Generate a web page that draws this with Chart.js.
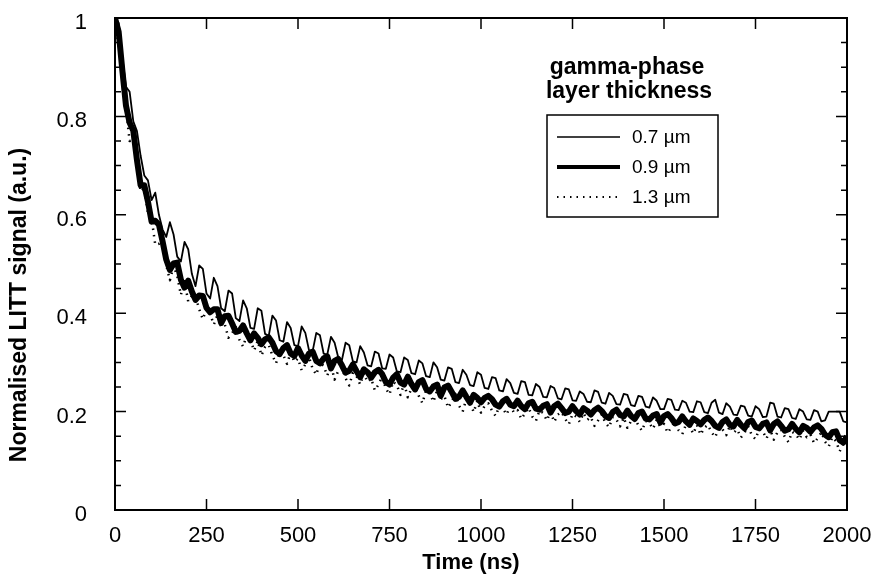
<!DOCTYPE html>
<html>
<head>
<meta charset="utf-8">
<title>LITT signal decay</title>
<script src="https://cdn.jsdelivr.net/npm/chart.js@4"></script>
<style>
  html, body { margin: 0; padding: 0; background: #fff; }
  canvas { display: block; }
</style>
</head>
<body>
<canvas id="littChart" width="871" height="575"></canvas>
<script>
// traces every 10 ns
const sampleStep = 10;

const seriesLabels = ['0.7 µm', '0.9 µm', '1.3 µm'];
const legendTitle = ['gamma-phase', 'layer thickness'];
const xTitle = 'Time (ns)';
const yTitle = 'Normalised LITT signal (a.u.)';
const xTickValues = [0, 250, 500, 750, 1000, 1250, 1500, 1750, 2000];
const yTickValues = [0, 0.2, 0.4, 0.6, 0.8, 1];
const yMinorStep = 0.05;

// 0.7 um (thin line)
const signal07 = [
  1.00, 0.99, 0.92, 0.86, 0.85, 0.79, 0.77, 0.72, 0.68, 0.67,
  0.63, 0.645, 0.60, 0.57, 0.555, 0.585, 0.56, 0.515, 0.505, 0.545,
  0.53, 0.48, 0.455, 0.497, 0.49, 0.44, 0.43, 0.472, 0.455, 0.41,
  0.404, 0.446, 0.44, 0.39, 0.384, 0.426, 0.41, 0.37, 0.368, 0.41,
  0.405, 0.358, 0.354, 0.395, 0.385, 0.345, 0.342, 0.382, 0.37, 0.335,
  0.333, 0.373, 0.36, 0.325, 0.323, 0.36, 0.355, 0.318, 0.316, 0.352,
  0.34, 0.31, 0.305, 0.34, 0.335, 0.302, 0.30, 0.333, 0.32, 0.294,
  0.292, 0.322, 0.318, 0.288, 0.287, 0.316, 0.31, 0.282, 0.28, 0.31,
  0.305, 0.278, 0.276, 0.304, 0.298, 0.272, 0.27, 0.30, 0.29, 0.265,
  0.263, 0.29, 0.287, 0.26, 0.258, 0.285, 0.275, 0.254, 0.252, 0.28,
  0.275, 0.248, 0.246, 0.27, 0.268, 0.243, 0.241, 0.266, 0.258, 0.238,
  0.236, 0.262, 0.26, 0.234, 0.233, 0.256, 0.25, 0.23, 0.229, 0.252,
  0.248, 0.227, 0.225, 0.247, 0.245, 0.223, 0.222, 0.241, 0.236, 0.22,
  0.219, 0.243, 0.24, 0.218, 0.216, 0.238, 0.232, 0.215, 0.214, 0.236,
  0.234, 0.213, 0.211, 0.232, 0.23, 0.21, 0.208, 0.229, 0.222, 0.205,
  0.205, 0.226, 0.224, 0.204, 0.203, 0.222, 0.218, 0.20, 0.199, 0.221,
  0.219, 0.199, 0.197, 0.218, 0.224, 0.198, 0.195, 0.217, 0.21, 0.194,
  0.193, 0.212, 0.21, 0.192, 0.19, 0.211, 0.205, 0.189, 0.19, 0.218,
  0.216, 0.19, 0.188, 0.207, 0.205, 0.187, 0.185, 0.205, 0.20, 0.184,
  0.183, 0.203, 0.20, 0.18, 0.182, 0.20, 0.20, 0.20, 0.20, 0.18,
  0.178
];

// 0.9 um (thick line)
const signal09 = [
  1.00, 0.972, 0.894, 0.822, 0.787, 0.771, 0.711, 0.66, 0.66, 0.627,
  0.586, 0.588, 0.58, 0.546, 0.509, 0.488, 0.501, 0.503, 0.468, 0.452,
  0.466, 0.444, 0.427, 0.436, 0.435, 0.411, 0.402, 0.408, 0.408, 0.38,
  0.394, 0.395, 0.379, 0.362, 0.364, 0.375, 0.359, 0.345, 0.359, 0.35,
  0.337, 0.347, 0.351, 0.34, 0.323, 0.317, 0.329, 0.335, 0.318, 0.313,
  0.329, 0.314, 0.303, 0.318, 0.322, 0.303, 0.298, 0.308, 0.312, 0.288,
  0.303, 0.307, 0.294, 0.279, 0.283, 0.296, 0.282, 0.27, 0.286, 0.28,
  0.269, 0.28, 0.285, 0.276, 0.26, 0.255, 0.269, 0.276, 0.259, 0.255,
  0.271, 0.256, 0.245, 0.26, 0.264, 0.246, 0.241, 0.251, 0.255, 0.232,
  0.249, 0.253, 0.24, 0.226, 0.23, 0.243, 0.23, 0.218, 0.234, 0.228,
  0.219, 0.228, 0.232, 0.225, 0.214, 0.21, 0.221, 0.226, 0.214, 0.211,
  0.222, 0.211, 0.205, 0.217, 0.22, 0.206, 0.204, 0.212, 0.215, 0.198,
  0.211, 0.216, 0.207, 0.197, 0.20, 0.211, 0.201, 0.194, 0.207, 0.202,
  0.194, 0.203, 0.208, 0.201, 0.191, 0.187, 0.199, 0.204, 0.193, 0.19,
  0.202, 0.191, 0.185, 0.197, 0.20, 0.186, 0.184, 0.192, 0.195, 0.178,
  0.191, 0.195, 0.187, 0.176, 0.179, 0.19, 0.18, 0.173, 0.186, 0.181,
  0.174, 0.183, 0.188, 0.181, 0.171, 0.167, 0.179, 0.184, 0.173, 0.17,
  0.183, 0.173, 0.166, 0.179, 0.182, 0.169, 0.166, 0.175, 0.178, 0.162,
  0.175, 0.18, 0.171, 0.161, 0.164, 0.175, 0.165, 0.158, 0.171, 0.167,
  0.159, 0.168, 0.172, 0.165, 0.153, 0.148, 0.158, 0.16, 0.142, 0.137,
  0.15
];

// 1.3 um (dotted line)
const signal13 = [
  1.00, 0.941, 0.893, 0.815, 0.75, 0.752, 0.704, 0.647, 0.655, 0.604,
  0.593, 0.539, 0.541, 0.547, 0.498, 0.467, 0.496, 0.476, 0.437, 0.465,
  0.424, 0.435, 0.435, 0.408, 0.388, 0.409, 0.398, 0.377, 0.396, 0.373,
  0.377, 0.35, 0.359, 0.372, 0.346, 0.332, 0.355, 0.346, 0.324, 0.344,
  0.314, 0.331, 0.336, 0.314, 0.298, 0.323, 0.315, 0.297, 0.32, 0.301,
  0.308, 0.284, 0.296, 0.311, 0.287, 0.275, 0.30, 0.293, 0.273, 0.295,
  0.265, 0.283, 0.289, 0.268, 0.253, 0.279, 0.272, 0.255, 0.278, 0.26,
  0.267, 0.243, 0.255, 0.271, 0.247, 0.235, 0.261, 0.254, 0.234, 0.257,
  0.229, 0.247, 0.253, 0.232, 0.217, 0.244, 0.237, 0.22, 0.243, 0.225,
  0.232, 0.208, 0.22, 0.236, 0.212, 0.20, 0.226, 0.219, 0.199, 0.222,
  0.198, 0.212, 0.217, 0.202, 0.191, 0.211, 0.206, 0.194, 0.212, 0.198,
  0.203, 0.185, 0.196, 0.208, 0.19, 0.181, 0.202, 0.197, 0.182, 0.20,
  0.179, 0.194, 0.199, 0.185, 0.174, 0.195, 0.19, 0.179, 0.197, 0.183,
  0.189, 0.171, 0.182, 0.194, 0.177, 0.168, 0.189, 0.184, 0.17, 0.188,
  0.167, 0.181, 0.187, 0.172, 0.161, 0.181, 0.177, 0.165, 0.183, 0.169,
  0.175, 0.157, 0.168, 0.18, 0.162, 0.154, 0.174, 0.17, 0.155, 0.173,
  0.153, 0.167, 0.173, 0.158, 0.148, 0.168, 0.164, 0.152, 0.171, 0.157,
  0.164, 0.147, 0.157, 0.17, 0.152, 0.144, 0.164, 0.16, 0.145, 0.164,
  0.143, 0.158, 0.163, 0.149, 0.138, 0.159, 0.154, 0.143, 0.161, 0.148,
  0.154, 0.136, 0.146, 0.158, 0.139, 0.129, 0.148, 0.14, 0.119, 0.135,
  0.14
];

const times = signal09.map((_, i) => i * sampleStep);
const toPoints = vals => vals.map((v, i) => ({ x: times[i], y: v }));

const fontFamily = '"Liberation Sans", Arial, Helvetica, sans-serif';
Chart.defaults.font.family = fontFamily;
Chart.defaults.color = '#000';

const lineStyles = [
  { borderWidth: 1.8, borderDash: [] },
  { borderWidth: 6, borderDash: [] },
  { borderWidth: 2.5, borderDash: [1.5, 5] }
];
const legendWidths = [1.5, 4, 2];

// frame, inward ticks, legend box and axis titles
const framePlugin = {
  id: 'frame',
  afterDatasetsDraw(chart) {
    const { ctx, chartArea: a, scales: { x, y } } = chart;
    ctx.save();
    ctx.strokeStyle = '#000';
    ctx.fillStyle = '#000';
    ctx.lineWidth = 2;
    ctx.strokeRect(a.left, a.top, a.right - a.left, a.bottom - a.top);

    ctx.lineWidth = 1.5;
    ctx.beginPath();
    xTickValues.forEach(v => {
      const px = x.getPixelForValue(v);
      ctx.moveTo(px, a.bottom); ctx.lineTo(px, a.bottom - 11);
      ctx.moveTo(px, a.top); ctx.lineTo(px, a.top + 11);
    });
    const nMinor = Math.round(1 / yMinorStep);
    for (let i = 0; i <= nMinor; i++) {
      const py = y.getPixelForValue(i * yMinorStep);
      const len = i % 4 === 0 ? 11 : 6;
      ctx.moveTo(a.left, py); ctx.lineTo(a.left + len, py);
      ctx.moveTo(a.right, py); ctx.lineTo(a.right - len, py);
    }
    ctx.stroke();

    // legend
    ctx.textAlign = 'center';
    ctx.textBaseline = 'alphabetic';
    ctx.font = 'bold 23px ' + fontFamily;
    ctx.fillText(legendTitle[0], 627, 74);
    ctx.fillText(legendTitle[1], 629, 98);
    ctx.lineWidth = 1.5;
    ctx.strokeRect(547, 115, 171, 102);
    ctx.font = '19px ' + fontFamily;
    ctx.textAlign = 'left';
    ctx.textBaseline = 'middle';
    seriesLabels.forEach((lab, i) => {
      const yy = 137 + i * 30;
      ctx.save();
      ctx.lineWidth = legendWidths[i];
      ctx.setLineDash(lineStyles[i].borderDash);
      ctx.beginPath();
      ctx.moveTo(557, yy); ctx.lineTo(620, yy);
      ctx.stroke();
      ctx.restore();
      ctx.fillText(lab, 632, yy + 1);
    });

    // axis titles
    ctx.font = 'bold 22px ' + fontFamily;
    ctx.textAlign = 'center';
    ctx.fillText(xTitle, 471, 563);
    ctx.translate(20, 305);
    ctx.rotate(-Math.PI / 2);
    ctx.font = 'bold 23px ' + fontFamily;
    ctx.fillText(yTitle, 0, 0);
    ctx.restore();
  }
};

const tickFont = { size: 22 };

const config = {
  type: 'line',
  data: {
    datasets: [signal07, signal09, signal13].map((vals, i) => ({
      label: seriesLabels[i],
      data: toPoints(vals),
      borderColor: '#000',
      borderWidth: lineStyles[i].borderWidth,
      borderDash: lineStyles[i].borderDash,
      borderJoinStyle: 'round',
      pointRadius: 0,
      fill: false,
      tension: 0
    }))
  },
  options: {
    responsive: false,
    animation: false,
    devicePixelRatio: 1,
    layout: { padding: { top: 18, right: 24, left: 0, bottom: 0 } },
    plugins: { legend: { display: false }, tooltip: { enabled: false } },
    scales: {
      x: {
        type: 'linear',
        min: 0,
        max: 2000,
        afterFit: s => { s.height = 65; s.paddingLeft = 0; s.paddingRight = 0; },
        afterBuildTicks: s => { s.ticks = xTickValues.map(v => ({ value: v })); },
        grid: { display: false, drawTicks: false },
        border: { display: false },
        ticks: { padding: 13, font: tickFont, color: '#000', maxRotation: 0, autoSkip: false, callback: v => String(v) }
      },
      y: {
        type: 'linear',
        min: 0,
        max: 1,
        afterFit: s => { s.width = 115; s.paddingTop = 0; s.paddingBottom = 0; },
        afterBuildTicks: s => { s.ticks = yTickValues.map(v => ({ value: v })); },
        grid: { display: false, drawTicks: false },
        border: { display: false },
        ticks: { padding: 28, labelOffset: 5, font: tickFont, color: '#000', callback: v => String(v) }
      }
    }
  },
  plugins: [framePlugin]
};

const littChart = new Chart(document.getElementById('littChart'), config);
</script>
</body>
</html>
